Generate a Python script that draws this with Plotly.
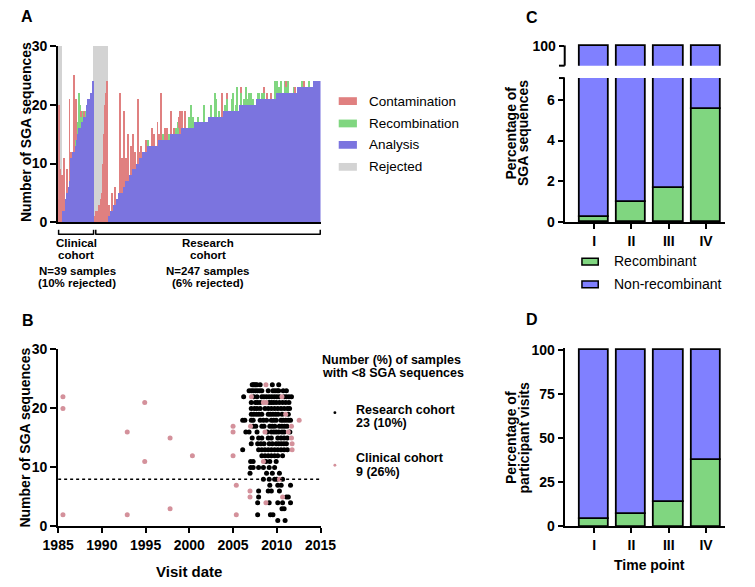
import plotly.graph_objects as go

# ---------------- DATA ----------------
# Panel A: SGA sequences per sample (sorted within cohort)
clin_rej_contam = [4, 20, 9, 2]
clin_analysis = [2, 2, 2, 3, 4, 5, 5, 6, 7, 8, 11, 11, 12, 12, 13, 14, 15, 15, 16, 16,
                 16, 17, 17, 17, 18, 18, 19, 20, 21, 21, 21, 22, 22, 22, 24]
clin_recomb = [0, 0, 0, 0, 0, 0, 0, 0, 0, 0, 0, 0, 0, 0, 1, 0, 2, 0, 6, 4,
               0, 1, 2, 0, 0, 1, 0, 0, 0, 0, 0, 0, 0, 0, 0]
clin_contam = [6, 0, 9, 0, 0, 4, 0, 0, 14, 0, 1, 0, 0, 13, 0, 7, 0, 0, 0, 0,
               0, 1, 0, 0, 1, 0, 0, 0, 0, 0, 0, 0, 0, 0, 0]
res_rej_contam = [0, 1, 2, 2, 2, 3, 3, 4, 5, 5, 10, 15, 20, 22, 24]
res_levels = list(range(1, 25))
res_level_counts = [2, 4, 3, 3, 4, 4, 3, 4, 4, 3, 3, 6, 12, 13, 12, 14, 16, 16, 18, 18, 21, 24, 17, 8]
res_recomb_idx = [44, 60, 66, 74, 76, 77, 88, 90, 93, 98, 105, 112, 117, 118, 121, 128, 130, 135, 136, 139,
                  141, 145, 148, 150, 151, 152, 154, 156, 158, 163, 165, 168, 170, 182, 184, 186, 187, 189,
                  193, 194, 196, 203, 211, 219]
res_recomb_val = [1, 1, 1, 1, 2, 1, 2, 4, 2, 1, 3, 2, 4, 3, 1, 1, 2, 2, 3, 1,
                  4, 2, 1, 3, 2, 1, 2, 2, 1, 1, 1, 1, 1, 3, 2, 1, 1, 2,
                  2, 1, 2, 1, 1, 1]
res_contam_idx = [1, 4, 8, 13, 15, 17, 20, 22, 25, 27, 29, 33, 35, 36, 41, 48, 50, 54, 56, 58,
                  62, 64, 69, 72, 77, 78, 81, 84, 124, 130, 145, 170, 173, 178, 194, 204, 214]
res_contam_val = [2, 3, 3, 17, 6, 13, 4, 8, 5, 6, 3, 11, 1, 2, 2, 3, 2, 4, 1, 8,
                  2, 2, 4, 1, 2, 4, 3, 3, 4, 1, 1, 1, 1, 1, 1, 1, 1]

# Panel B: visit date vs number of SGA sequences
research_rows = {
    24: [2007.19, 2007.32, 2007.45, 2007.60, 2007.74, 2008.10, 2009.49, 2010.22],
    23: [2006.83, 2007.08, 2007.30, 2007.56, 2007.80, 2008.05, 2008.29, 2009.02, 2009.56, 2009.80, 2010.05,
         2010.22, 2010.73, 2011.10],
    22: [2006.21, 2007.37, 2007.74, 2008.29, 2008.54, 2008.83, 2009.13, 2009.42, 2009.71, 2010.00, 2010.29,
         2010.84, 2011.10, 2011.39, 2011.68],
    21: [2007.08, 2007.56, 2007.81, 2008.10, 2009.13, 2009.38, 2009.64, 2009.93, 2010.29, 2010.66, 2011.02,
         2011.39],
    20: [2007.08, 2007.45, 2007.74, 2008.10, 2008.65, 2009.02, 2009.38, 2009.75, 2010.11, 2010.48, 2010.84,
         2011.21, 2011.46],
    19: [2007.08, 2007.37, 2007.67, 2007.96, 2008.29, 2009.02, 2009.27, 2009.56, 2009.86, 2010.15, 2010.60,
         2011.32],
    18: [2006.10, 2006.35, 2007.08, 2007.30, 2008.10, 2008.47, 2008.83, 2009.38, 2009.64, 2009.93, 2010.48,
         2010.73, 2011.02, 2011.32, 2011.57],
    17: [2007.30, 2007.60, 2008.29, 2008.54, 2009.20, 2009.49, 2009.78, 2010.29, 2010.59, 2010.88, 2011.17],
    16: [2006.46, 2006.83, 2007.74, 2008.91, 2009.38, 2009.67, 2009.93, 2010.22, 2010.59, 2010.84, 2011.50],
    15: [2007.19, 2007.92, 2008.29, 2009.02, 2009.38, 2010.11, 2010.48, 2010.84, 2011.20],
    14: [2007.08, 2007.81, 2008.18, 2008.54, 2009.13, 2009.49, 2009.93, 2010.22, 2010.51, 2010.81, 2011.10],
    13: [2006.10, 2007.92, 2008.29, 2008.65, 2009.02, 2009.38, 2009.75, 2010.11, 2010.48, 2010.84, 2011.21],
    12: [2008.29, 2008.65, 2009.02, 2009.38, 2009.75, 2010.11, 2010.66],
    11: [2007.01, 2007.30, 2008.76, 2009.20, 2009.93],
    10: [2007.01, 2007.30, 2007.92, 2008.47, 2009.13, 2009.75],
    9: [2006.94, 2008.83, 2009.49, 2010.30],
    8: [2008.47, 2009.13, 2009.75, 2010.00, 2010.66],
    7: [2009.20, 2010.11, 2010.50, 2011.57],
    6: [2007.92, 2009.02, 2009.38, 2010.30],
    5: [2007.92, 2011.10, 2011.32],
    4: [2007.81, 2009.13, 2010.11, 2010.66, 2011.57],
    3: [2010.59, 2010.84],
    2: [2007.81, 2009.27, 2009.56],
    1: [2010.11, 2010.95],
}
clinical_years = [1985.55, 1985.55, 1985.55, 1992.9, 1992.9, 1994.9, 1994.9, 1997.8, 1997.8, 2000.35,
                  2005.0, 2005.0, 2005.0, 2005.37, 2005.37, 2012.56, 2007.1, 2007.0, 2008.76, 2008.47,
                  2008.76, 2008.65, 2008.47, 2010.59, 2011.02, 2011.68, 2011.32, 2011.68, 2011.75, 2011.75,
                  2010.29, 2006.94, 2006.94, 2010.66, 2008.76]
clinical_counts = [22, 20, 2, 16, 2, 21, 11, 15, 3, 12,
                   17, 16, 12, 7, 2, 18, 22, 17, 24, 21,
                   21, 16, 11, 22, 19, 17, 16, 15, 14, 13,
                   8, 6, 5, 5, 4]
threshold = 8
year_ticks = [1985, 1990, 1995, 2000, 2005, 2010, 2015]

# Panels C, D
timepoints = ["I", "II", "III", "IV"]
seq_recomb_pct = [0.27, 0.97, 1.68, 5.54]
visit_recomb_pct = [4.2, 6.9, 13.8, 37.5]

# ---------------- STYLE ----------------
W, H = 755, 587
FONT = "Liberation Sans, Arial, sans-serif"
RED = "#E08080"
GREEN = "#80D680"
BLUE_A = "#7B74DF"
GREY = "#D3D3D3"
BLUE = "#8080FF"
PINK = "#D4919B"


def fx(p):
    return p / W


def fy(p):
    return 1 - p / H


def bfont(size=14, bold=True, color="black"):
    return dict(family=FONT, size=size, color=color, weight="bold" if bold else "normal")


# ---------------- BUILD PANEL A ARRAYS ----------------
res_analysis = []
for lv, cnt in zip(res_levels, res_level_counts):
    res_analysis += [lv] * cnt
res_recomb = [0] * len(res_analysis)
for i, v in zip(res_recomb_idx, res_recomb_val):
    res_recomb[i] = v
res_contam = [0] * len(res_analysis)
for i, v in zip(res_contam_idx, res_contam_val):
    res_contam[i] = v

n_cr, n_ca, n_rr, n_ra = len(clin_rej_contam), len(clin_analysis), len(res_rej_contam), len(res_analysis)
analysis = [0] * n_cr + clin_analysis + [0] * n_rr + res_analysis
recomb = [0] * n_cr + clin_recomb + [0] * n_rr + res_recomb
contam = clin_rej_contam + clin_contam + res_rej_contam + res_contam
rejected = [30] * n_cr + [0] * n_ca + [30] * n_rr + [0] * n_ra
xs = list(range(len(analysis)))


def nz(lst):
    return [v if v else None for v in lst]


fig = go.Figure()
fig.add_bar(x=xs, y=nz(rejected), base=0, width=1, marker=dict(color=GREY, line=dict(width=0)),
            xaxis="x", yaxis="y")
fig.add_bar(x=xs, y=nz(analysis), base=0, width=1, marker=dict(color=BLUE_A, line=dict(width=0)),
            xaxis="x", yaxis="y")
fig.add_bar(x=xs, y=nz(recomb), base=analysis, width=1, marker=dict(color=GREEN, line=dict(width=0)),
            xaxis="x", yaxis="y")
fig.add_bar(x=xs, y=nz(contam), base=[a + r for a, r in zip(analysis, recomb)], width=1,
            marker=dict(color=RED, line=dict(width=0)), xaxis="x", yaxis="y")

# ---------------- PANEL B ----------------
rx, ry = [], []
for cnt, yrs in research_rows.items():
    rx += yrs
    ry += [cnt] * len(yrs)
fig.add_scatter(x=rx, y=ry, mode="markers", marker=dict(color="black", size=5, line=dict(width=0)),
                xaxis="x2", yaxis="y2")
fig.add_scatter(x=clinical_years, y=clinical_counts, mode="markers",
                marker=dict(color=PINK, size=5, line=dict(width=0)), xaxis="x2", yaxis="y2")
fig.add_scatter(x=[year_ticks[0], year_ticks[-1]], y=[threshold, threshold], mode="lines",
                line=dict(color="black", width=1.6, dash="dot"), xaxis="x2", yaxis="y2")

# ---------------- PANEL C ----------------
cx = list(range(len(timepoints)))
non_seq = [100 - v for v in seq_recomb_pct]
bar_line = dict(color="black", width=1.8)
for xa, ya in (("x3", "y3"), ("x4", "y4")):
    fig.add_bar(x=cx, y=seq_recomb_pct, base=0, width=0.79,
                marker=dict(color=GREEN, line=bar_line), xaxis=xa, yaxis=ya)
    fig.add_bar(x=cx, y=non_seq, base=seq_recomb_pct, width=0.79,
                marker=dict(color=BLUE, line=bar_line), xaxis=xa, yaxis=ya)

# ---------------- PANEL D ----------------
non_visit = [100 - v for v in visit_recomb_pct]
fig.add_bar(x=cx, y=visit_recomb_pct, base=0, width=0.79,
            marker=dict(color=GREEN, line=bar_line), xaxis="x5", yaxis="y5")
fig.add_bar(x=cx, y=non_visit, base=visit_recomb_pct, width=0.79,
            marker=dict(color=BLUE, line=bar_line), xaxis="x5", yaxis="y5")

# ---------------- AXES ----------------
base_ax = dict(showgrid=False, zeroline=False, showline=True, linecolor="black", linewidth=2,
               ticks="outside", ticklen=6, tickwidth=2, tickcolor="black", tickfont=bfont(14))

cat_range = [-0.79, 3.50]
layout = dict(
    width=W, height=H, margin=dict(l=0, r=0, t=0, b=0), paper_bgcolor="white", plot_bgcolor="white",
    showlegend=False, barmode="overlay", bargap=0,
    xaxis=dict(base_ax, domain=[fx(44), fx(318)], range=[-0.5, len(xs) - 0.5], ticks="",
               showticklabels=False, anchor="y"),
    yaxis=dict(base_ax, domain=[fy(220.3), fy(39)], range=[0, 30], tickvals=[0, 10, 20, 30], anchor="x"),
    xaxis2=dict(base_ax, domain=[fx(44), fx(318)], range=[1985, 2015], tickvals=year_ticks, anchor="y2",
                ticklen=5),
    yaxis2=dict(base_ax, domain=[fy(533), fy(351)], range=[0, 30], tickvals=[0, 10, 20, 30], anchor="x2"),
    xaxis3=dict(base_ax, domain=[fx(573), fx(740)], range=cat_range, tickvals=cx, ticktext=timepoints,
                anchor="y3", ticklen=5),
    yaxis3=dict(base_ax, domain=[fy(220.3), fy(72)], range=[0, 7.06], tickvals=[0, 2, 4, 6], anchor="x3",
                ticklen=5),
    xaxis4=dict(domain=[fx(573), fx(740)], range=cat_range, visible=False, anchor="y4"),
    yaxis4=dict(base_ax, domain=[fy(59.3), fy(36)], range=[90, 101.48], tickvals=[100], anchor="x4",
                showline=False, ticklen=5),
    xaxis5=dict(base_ax, domain=[fx(573), fx(740)], range=cat_range, tickvals=cx, ticktext=timepoints,
                anchor="y5", ticklen=5),
    yaxis5=dict(base_ax, domain=[fy(533), fy(349.5)], range=[0, 101.2], tickvals=[0, 25, 50, 75, 100],
                anchor="x5", ticklen=5),
)

# ---------------- SHAPES ----------------
shapes = []


def pline(x0, y0, x1, y1, width=1.5, color="black", dash=None):
    ln = dict(color=color, width=width)
    if dash:
        ln["dash"] = dash
    shapes.append(dict(type="line", xref="paper", yref="paper", x0=fx(x0), y0=fy(y0), x1=fx(x1), y1=fy(y1),
                       line=ln))


def prect(x0, y0, x1, y1, fill, lw=0):
    shapes.append(dict(type="rect", xref="paper", yref="paper", x0=fx(x0), y0=fy(y0), x1=fx(x1), y1=fy(y1),
                       fillcolor=fill, line=dict(color="black", width=lw)))


# cohort brackets (panel A)
for xa, xb in ((44.5, 81), (83.3, 317.7)):
    pline(xa, 232.5, xb, 232.5, 1.5)
    pline(xa, 228, xa, 233.2, 1.5)
    pline(xb, 228, xb, 233.2, 1.5)

# legend swatches (panel A)
for yy, col in ((95.7, RED), (118.7, GREEN), (140.7, BLUE_A), (163.3, GREY)):
    prect(337, yy - 4, 356, yy + 4, col)

# legend dots (panel B)
for yy, col in ((416, "black"), (470, PINK)):
    shapes.append(dict(type="circle", xref="paper", yref="paper", x0=fx(331.5), x1=fx(334.5),
                       y0=fy(yy + 1.5), y1=fy(yy - 1.5), fillcolor=col, line=dict(width=0)))

# broken axis (panel C)
pline(573, 38.5, 573, 59.3, 2)
pline(567, 59.3, 573, 59.3, 2)
pline(567, 72, 573, 72, 2)

# legend swatches (panel C)
prect(591, 257.3, 608, 264.3, GREEN, 1.5)
prect(591, 280.7, 608, 287.7, BLUE, 1.5)

# ---------------- TEXT ----------------
ann = []


def label(x, y, s, size=14, bold=True, xanchor="center", angle=0):
    ann.append(dict(x=fx(x), y=fy(y), xref="paper", yref="paper", text=s, showarrow=False,
                    xanchor=xanchor, yanchor="middle", textangle=angle, font=bfont(size, bold)))


label(11.5, 9, "A", 16)
label(12.5, 321, "B", 16)
label(539, 10, "C", 16)
label(539, 320, "D", 16)

label(10, 128, "Number of SGA sequences", 14, angle=-90)
label(9, 442, "Number of SGA sequences", 14, angle=-90)

label(63, 242, "Clinical", 11.5)
label(63, 254, "cohort", 11.5)
label(200.5, 242, "Research", 11.5)
label(200.5, 254, "cohort", 11.5)
label(64, 270, "N=39 samples", 11.5)
label(64, 283, "(10% rejected)", 11.5)
label(200, 270, "N=247 samples", 11.5)
label(200, 283, "(6% rejected)", 11.5)

for yy, s in ((95.7, "Contamination"), (118.7, "Recombination"), (140.7, "Analysis"), (163.3, "Rejected")):
    label(367, yy, s, 13.5, bold=False, xanchor="left")

label(181, 579, "Visit date", 15)
label(317, 361.7, "Number (%) of samples", 12.5, xanchor="left")
label(317, 375, "with <8 SGA sequences", 12.5, xanchor="left")
label(353, 413, "Research cohort", 12.5, xanchor="left")
label(353, 427, "23 (10%)", 12.5, xanchor="left")
label(353, 463, "Clinical cohort", 12.5, xanchor="left")
label(353, 477, "9 (26%)", 12.5, xanchor="left")

label(517, 129, "Percentage of", 14, angle=-90)
label(530, 129, "SGA sequences", 14, angle=-90)
label(517, 442, "Percentage of", 14, angle=-90)
label(530, 442, "participant visits", 14, angle=-90)

label(622, 260.5, "Recombinant", 14, bold=False, xanchor="left")
label(622, 284, "Non-recombinant", 14, bold=False, xanchor="left")
label(662, 573, "Time point", 14)

layout["shapes"] = shapes
layout["annotations"] = ann
fig.update_layout(**layout)
fig.write_html("out.html")
